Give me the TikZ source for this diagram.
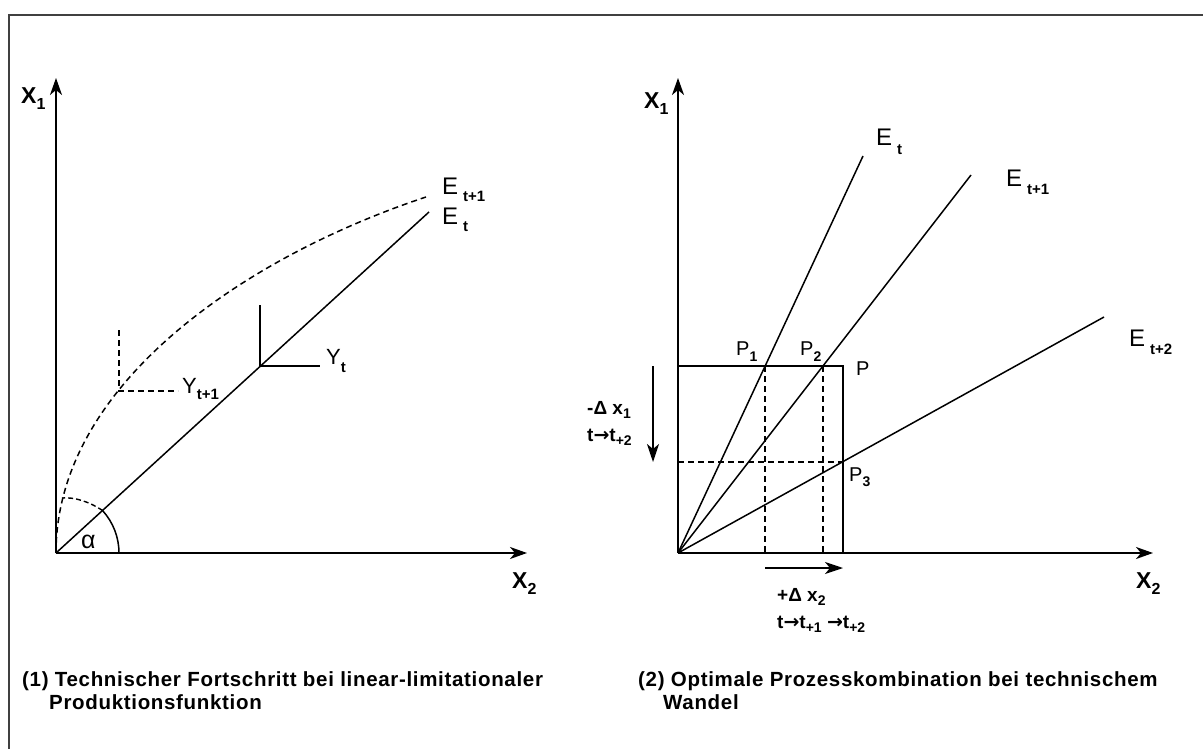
\documentclass[tikz,border=0pt]{standalone}
\usepackage{fontspec}
\setmainfont{Liberation Sans}
\newfontfamily\capfont[LetterSpace=3.3]{Liberation Sans}
\newfontfamily\arrfont{DejaVu Sans}
\usetikzlibrary{arrows.meta}
\newcommand{\lsub}[3][7pt]{\raisebox{-#1}{\fontsize{#2}{#2}\selectfont\bfseries #3}}
\newcommand{\tto}{{\arrfont\bfseries →}}
\begin{document}
\begin{tikzpicture}[x=1pt,y=-1pt,
  axis/.style={line width=1.9pt,-{Stealth[length=17pt,width=12pt,inset=5pt]}},
  smallarrow/.style={line width=1.6pt,-{Stealth[length=18pt,width=12pt,inset=5pt]}},
  ray/.style={line width=1.5pt},
  dashline/.style={line width=1.5pt,dash pattern=on 6pt off 4pt},
  lbl/.style={inner sep=0pt,anchor=base west},
  axlbl/.style={lbl,font=\fontsize{23}{23}\selectfont\bfseries},
  elbl/.style={lbl,font=\fontsize{24}{24}\selectfont},
  plbl/.style={lbl,font=\fontsize{20}{20}\selectfont},
  dlbl/.style={lbl,font=\fontsize{19}{19}\selectfont\bfseries},
  caplbl/.style={lbl,font=\capfont\fontsize{20.5}{23}\selectfont\bfseries}]
\useasboundingbox (0,0) rectangle (1203,749);
\coordinate (FB) at (9,749);
\coordinate (FC) at (9,15);
\coordinate (FR) at (1203,15);
\draw[line width=2.4pt,color=black!75] (FB) -- (FC) -- (FR);

% ---------- left diagram ----------
\coordinate (O1) at (56,553);
\coordinate (Y1) at (56,78);
\coordinate (X1) at (527,553);
\coordinate (Et) at (429,212);
\coordinate (Etn) at (426,197);
\coordinate (Ytc) at (260,366);
\coordinate (Ytv) at (260,305);
\coordinate (Yth) at (320,366);
\coordinate (Ync) at (119,391);
\coordinate (Ynv) at (119,330);
\coordinate (Ynh) at (178,391);
\coordinate (A0) at (119,553);
\coordinate (Am) at (102.5,510.5);
\coordinate (Ae) at (62,498);

\draw[axis] (O1) -- (Y1);
\draw[axis] (O1) -- (X1);
\draw[ray] (O1) -- (Et);
\draw[dashline] (O1) .. controls (56,383) and (248,256) .. (Etn);
\draw[ray] (Ytv) -- (Ytc) -- (Yth);
\draw[dashline] (Ynv) -- (Ync) -- (Ynh);
\draw[ray] (A0) arc[start angle=0,end angle=42.4,radius=63pt];
\draw[line width=1.4pt,dash pattern=on 5pt off 3pt] (Am) .. controls (88,501) and (74,497) .. (Ae);

\node[axlbl] (lx1) at (21,104) {X\lsub[6pt]{16}{1}};
\node[axlbl] (lx2) at (512,588) {X\lsub[6pt]{16}{2}};
\node[elbl] (let1) at (442,194) {E\hspace{5pt}\lsub[8pt]{15}{t+1}};
\node[elbl] (let) at (442,224) {E\hspace{5pt}\lsub[8pt]{15}{t}};
\node[lbl,font=\fontsize{22}{22}\selectfont] (lyt) at (326,364) {Y\lsub[8pt]{15}{t}};
\node[lbl,font=\fontsize{22}{22}\selectfont] (lyt1) at (182,393) {Y\lsub[6pt]{15}{t+1}};
\node[lbl,font=\fontsize{25}{25}\selectfont] (alpha) at (81,548) {α};

% ---------- right diagram ----------
\coordinate (O2) at (678,553);
\coordinate (Y2) at (678,78);
\coordinate (X2) at (1153,553);
\coordinate (R1) at (863,156);
\coordinate (R2) at (971,175);
\coordinate (R3) at (1104,317);
\coordinate (PL) at (678,366);
\coordinate (PP) at (843,366);
\coordinate (PB) at (843,553);
\coordinate (P1) at (765,366);
\coordinate (P2) at (823,366);
\coordinate (P3) at (843,462);
\coordinate (P3L) at (678,462);
\coordinate (D1) at (765,553);
\coordinate (D2) at (823,553);
\coordinate (dA) at (653,366);
\coordinate (dB) at (653,462);
\coordinate (rA) at (765,568);
\coordinate (rB) at (843,568);

\draw[axis] (O2) -- (Y2);
\draw[axis] (O2) -- (X2);
\draw[ray] (O2) -- (R1);
\draw[ray] (O2) -- (R2);
\draw[ray] (O2) -- (R3);
\draw[ray] (PL) -- (PP) -- (PB);
\draw[dashline] (P3L) -- (P3);
\draw[dashline] (P1) -- (D1);
\draw[dashline] (P2) -- (D2);
\draw[smallarrow] (dA) -- (dB);
\draw[smallarrow] (rA) -- (rB);

\node[axlbl] (rx1) at (644,109) {X\lsub[6pt]{16}{1}};
\node[axlbl] (rx2) at (1136,588) {X\lsub[6pt]{16}{2}};
\node[elbl] (ret) at (876,146) {E\hspace{5pt}\lsub[9pt]{15}{t}};
\node[elbl] (ret1) at (1006,186) {E\hspace{5pt}\lsub[8pt]{15}{t+1}};
\node[elbl] (ret2) at (1129,346) {E\hspace{5pt}\lsub[8pt]{15}{t+2}};
\node[plbl] (lp1) at (736,355) {P\lsub[6pt]{14}{1}};
\node[plbl] (lp2) at (800,355) {P\lsub[6pt]{14}{2}};
\node[plbl] (lp) at (856,375) {P};
\node[plbl] (lp3) at (849,481) {P\lsub[5pt]{14}{3}};
\node[dlbl] (dx1) at (587,414) {-Δ x\lsub[4pt]{14}{1}};
\node[dlbl] (dt1) at (587,441) {t\tto t\lsub[4pt]{14}{+2}};
\node[dlbl] (dx2) at (777,601) {+Δ x\lsub[4pt]{14}{2}};
\node[dlbl] (dt2) at (777,628) {t\tto t\lsub[4pt]{14}{+1} \tto t\lsub[4pt]{14}{+2}};

% ---------- captions ----------
\node[caplbl] (c1a) at (22,686) {(1) Technischer Fortschritt bei linear-limitationaler};
\node[caplbl] (c1b) at (49,709) {Produktionsfunktion};
\node[caplbl] (c2a) at (638,686) {(2) Optimale Prozesskombination bei technischem};
\node[caplbl] (c2b) at (663,709) {Wandel};
\end{tikzpicture}
\end{document}
